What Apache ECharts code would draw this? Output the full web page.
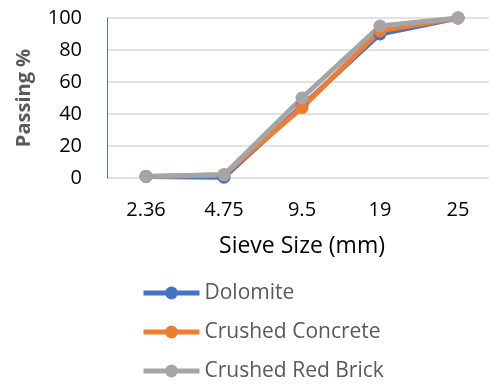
<!DOCTYPE html>
<html><head><meta charset="utf-8">
<script src="https://cdn.jsdelivr.net/npm/echarts@6/dist/echarts.min.js"></script>
<style>html,body{margin:0;padding:0;background:#fff}#c{width:489px;height:384px}</style>
</head><body><div id="c"></div>
<script>
var categories = ['2.36', '4.75', '9.5', '19', '25'];
var dolomite = [1, 0.5, 45, 90, 100];
var crushedConcrete = [1, 2, 44, 92, 100];
var crushedRedBrick = [1, 2, 50, 95, 100];
var yTicks = [0, 20, 40, 60, 80, 100];

var FONT = 'Open Sans';
var chart = echarts.init(document.getElementById('c'));
function mk(name, data, color) {
  return {
    name: name, type: 'line', data: data,
    symbol: 'circle', symbolSize: 13,
    itemStyle: { color: color },
    lineStyle: { color: color, width: 5 },
    emphasis: { disabled: true },
    animation: false
  };
}
chart.setOption({
  animation: false,
  textStyle: { fontFamily: FONT },
  grid: { left: 107, width: 390, top: 18, bottom: 206, containLabel: false, outerBoundsMode: 'none' },
  xAxis: {
    type: 'category', data: categories, boundaryGap: true,
    axisLine: { show: false }, axisTick: { show: false },
    axisLabel: { color: '#000', fontSize: 20, fontFamily: FONT, margin: 22 },
    name: 'Sieve Size (mm)', nameLocation: 'middle', nameGap: 57,
    nameTextStyle: { color: '#000', fontSize: 23, fontFamily: FONT }
  },
  yAxis: {
    type: 'value', min: yTicks[0], max: yTicks[yTicks.length - 1], interval: 20,
    axisLine: { show: true, lineStyle: { color: '#4472C4', width: 1 } },
    axisTick: { show: false },
    axisLabel: { color: '#000', fontSize: 20, fontFamily: FONT, margin: 25 },
    splitLine: { lineStyle: { color: '#d9d9d9', width: 1.5 } },
    name: 'Passing %', nameLocation: 'middle', nameGap: 73, nameRotate: 90,
    nameTextStyle: { color: '#595959', fontSize: 20, fontWeight: 'bold', fontFamily: FONT }
  },
  legend: {
    orient: 'vertical', left: 141, top: 282, height: 102, padding: 0,
    itemWidth: 56, itemHeight: 16, itemGap: 17,
    lineStyle: { width: 5 },
    textStyle: { color: '#595959', fontSize: 21, lineHeight: 22, fontFamily: FONT },
    data: ['Dolomite', 'Crushed Concrete', 'Crushed Red Brick']
  },
  series: [
    mk('Dolomite', dolomite, '#4472C4'),
    mk('Crushed Concrete', crushedConcrete, '#ED7D31'),
    mk('Crushed Red Brick', crushedRedBrick, '#A5A5A5')
  ]
});
</script></body></html>
